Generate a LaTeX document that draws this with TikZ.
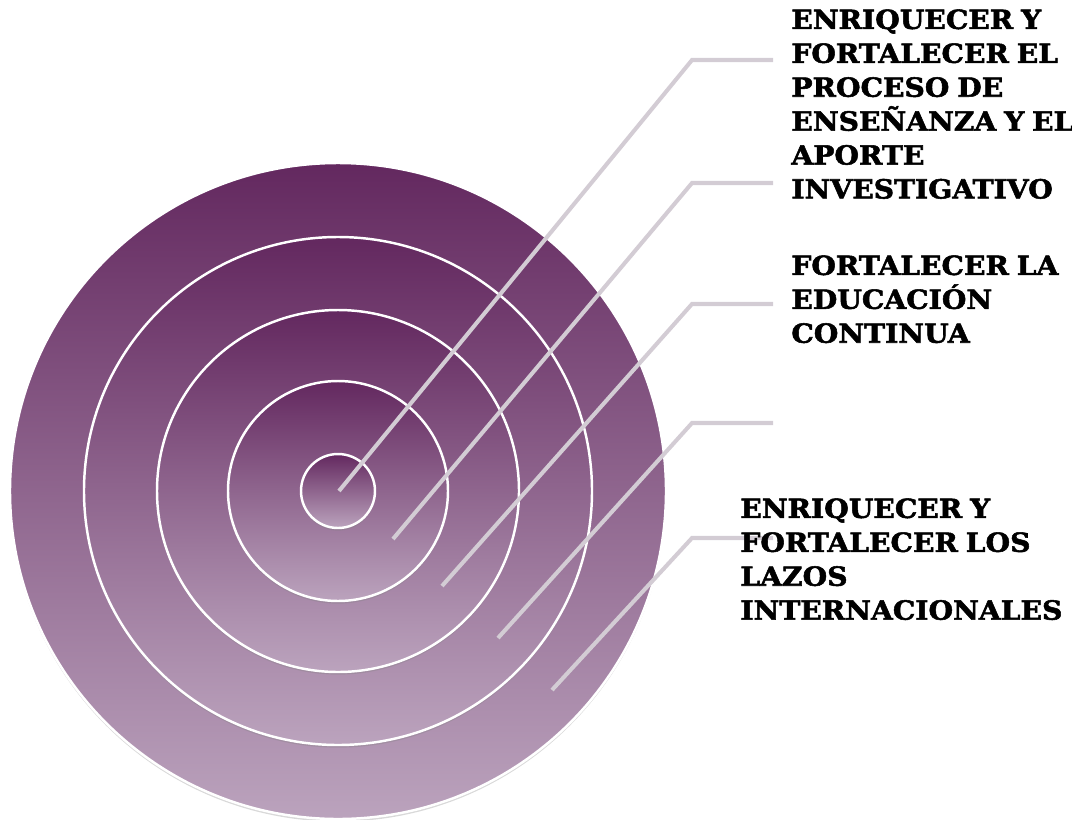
\documentclass[tikz,border=0pt]{standalone}
\usepackage{fontspec}
\setmainfont{DejaVu Serif}
\newfontfamily\goalfont{DejaVu Serif}[FakeStretch=1.07, WordSpace=0.8, BoldFeatures={FakeBold=2}]
\usetikzlibrary{shadows}
\definecolor{ringtop}{HTML}{63285F}
\definecolor{ringbot}{HTML}{BBA3BD}
\definecolor{leadcolor}{HTML}{D3CCD4}

\tikzset{
  ring/.style={draw=white, line width=1.4pt, top color=ringtop, bottom color=ringbot,
    drop shadow={opacity=.3, shadow xshift=0pt, shadow yshift=-1.5pt}},
  leader/.style={leadcolor, line width=2.3pt},
  goal/.style={anchor=north west, align=left, inner sep=0pt,
    font=\goalfont\bfseries\fontsize{15}{19.3}\selectfont}
}

\begin{document}
\begin{tikzpicture}[x=0.02cm,y=-0.02cm]
  \useasboundingbox (0,0) rectangle (1072,819);
  % target rings, outer one first
  \coordinate (O) at (338,491);
  \foreach \r in {328,254,181,110,37}
    \path[ring] (O) circle (\r);
  % leader lines: start, knee, end
  \coordinate (s1) at (339,491); \coordinate (k1) at (692,60);  \coordinate (h1) at (773,60);
  \coordinate (s2) at (393,539); \coordinate (k2) at (692,183); \coordinate (h2) at (773,183);
  \coordinate (s3) at (442,586); \coordinate (k3) at (692,304); \coordinate (h3) at (773,304);
  \coordinate (s4) at (498,638); \coordinate (k4) at (692,423); \coordinate (h4) at (773,423);
  \coordinate (s5) at (552,690); \coordinate (k5) at (692,538); \coordinate (h5) at (773,538);
  \foreach \i in {1,...,5}
    \draw[leader] (s\i) -- (k\i) -- (h\i);
  % labels
  \node[goal] (g1) at (791,9) {ENRIQUECER Y\\FORTALECER EL\\PROCESO DE\\ENSEÑANZA Y EL\\APORTE\\INVESTIGATIVO};
  \node[goal] (g2) at (791,255) {FORTALECER LA\\EDUCACIÓN\\CONTINUA};
  \node[goal] (g5) at (740,498) {ENRIQUECER Y\\FORTALECER LOS\\LAZOS\\INTERNACIONALES};
\end{tikzpicture}
\end{document}
